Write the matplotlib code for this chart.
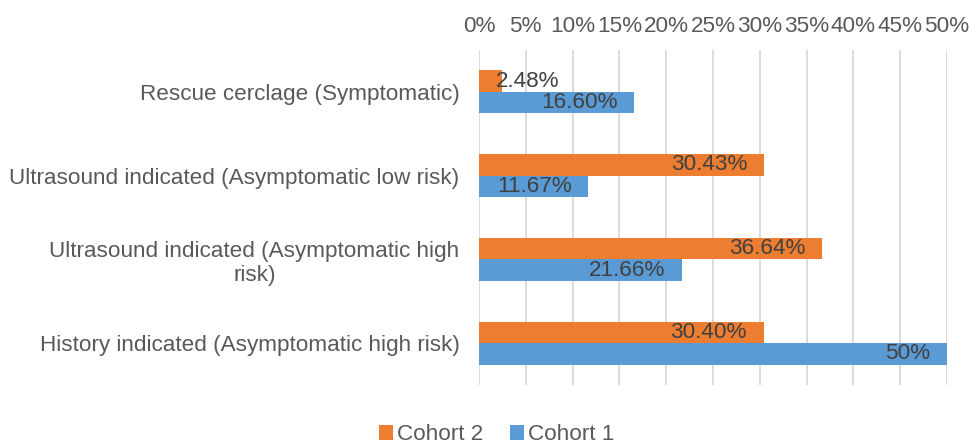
import matplotlib
matplotlib.use("Agg")
import matplotlib.pyplot as plt
import numpy as np

plt.rcParams['font.family'] = ['Liberation Sans', 'DejaVu Sans']

categories = [
    "Rescue cerclage (Symptomatic)",
    "Ultrasound indicated (Asymptomatic low risk)",
    "Ultrasound indicated (Asymptomatic high\nrisk)",
    "History indicated (Asymptomatic high risk)",
]
cohort2 = [2.48, 30.43, 36.64, 30.40]
cohort1 = [16.60, 11.67, 21.66, 50.0]
cohort2_labels = ["2.48%", "30.43%", "36.64%", "30.40%"]
cohort1_labels = ["16.60%", "11.67%", "21.66%", "50%"]
xticks = [0, 5, 10, 15, 20, 25, 30, 35, 40, 45, 50]

orange = "#ED7D31"
blue = "#5B9BD5"
grid_c = "#D9D9D9"
text_c = "#595959"
label_c = "#404040"

fig = plt.figure(figsize=(9.69, 4.47), dpi=100)
ax = fig.add_axes([479 / 969, 1 - 385 / 447, 468 / 969, 335 / 447])

y = np.arange(len(categories))
h = 0.257
ax.barh(y - h / 2, cohort2, height=h, color=orange, label="Cohort 2", zorder=2)
ax.barh(y + h / 2, cohort1, height=h, color=blue, label="Cohort 1", zorder=2)

ax.set_xlim(0, 50)
ax.set_ylim(3.5, -0.5)

ax.set_xticks(xticks)
ax.set_xticklabels([f"{t}%" for t in xticks])
ax.xaxis.tick_top()
ax.tick_params(axis='x', length=0, pad=9, labelsize=16.2, labelcolor=text_c)
ax.set_yticks(y)
ax.set_yticklabels(categories)
ax.tick_params(axis='y', length=0, pad=14, labelsize=16.2, labelcolor=text_c)
for lab in ax.get_yticklabels():
    lab.set_multialignment('center')

ax.grid(axis='x', color=grid_c, linewidth=1.3, zorder=0)
ax.grid(axis='y', visible=False)
for s in ax.spines.values():
    s.set_visible(False)

# value labels sit just inside the end of each bar
def put_labels(vals, texts, ypos):
    for v, t, yy in zip(vals, texts, ypos):
        if v < 5:
            ax.annotate(t, xy=(0, yy), xytext=(12, 0), textcoords='offset points',
                        ha='left', va='center', fontsize=16.2, color=label_c, zorder=3)
        else:
            ax.annotate(t, xy=(v, yy), xytext=(-12, 0), textcoords='offset points',
                        ha='right', va='center', fontsize=16.2, color=label_c, zorder=3)

put_labels(cohort2, cohort2_labels, y - h / 2)
put_labels(cohort1, cohort1_labels, y + h / 2)

fig.legend(loc='center', bbox_to_anchor=(497 / 969, 1 - 435 / 447), ncol=2, frameon=False,
           fontsize=16.2, labelcolor=text_c, handlelength=0.6, handleheight=0.6,
           handletextpad=0.2, columnspacing=1.2, borderpad=0)

fig.savefig("out.png", dpi=100)
